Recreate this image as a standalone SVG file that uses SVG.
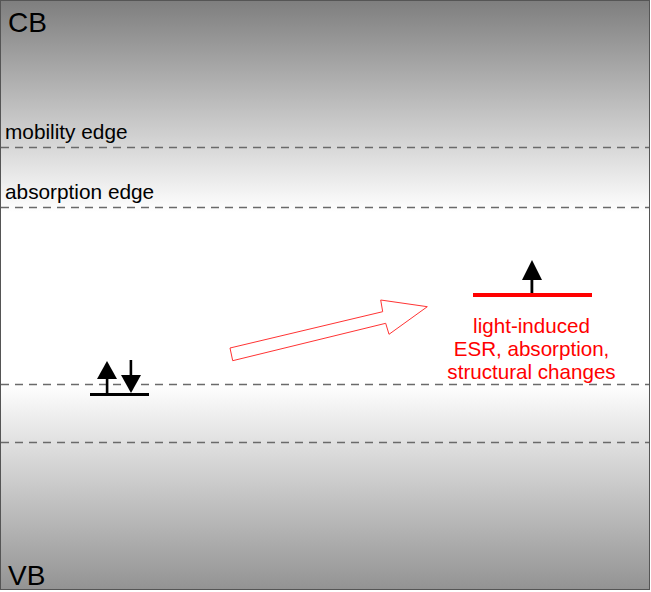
<svg xmlns="http://www.w3.org/2000/svg" width="651" height="592" viewBox="0 0 651 592">
<style>
.lbl{font-family:"Liberation Sans",Arial,sans-serif;font-size:20.8px;fill:#000}
.band{font-family:"Liberation Sans",Arial,sans-serif;font-size:28px;fill:#000}
.red{font-family:"Liberation Sans",Arial,sans-serif;font-size:20.6px;fill:#ff0000;text-anchor:middle}
.dash{stroke:#6a6a6a;stroke-width:1.3;stroke-dasharray:8 6;fill:none}
.blk{fill:#000;stroke:none}
</style>
<defs>
<linearGradient id="bg" gradientUnits="userSpaceOnUse" x1="0" y1="0" x2="0" y2="590">
<stop offset="0" stop-color="#7e7e7e"/>
<stop offset="0.36" stop-color="#ffffff"/>
<stop offset="0.65" stop-color="#ffffff"/>
<stop offset="1" stop-color="#939393"/>
</linearGradient>
</defs>
<rect width="651" height="592" fill="#ffffff"/>
<rect x="0.5" y="0.5" width="649" height="589" fill="url(#bg)" stroke="#555" stroke-width="1"/>
<g id="levels">
<line class="dash" x1="1" y1="147.5" x2="649" y2="147.5"/>
<line class="dash" x1="1" y1="207.5" x2="649" y2="207.5"/>
<line class="dash" x1="1" y1="384.5" x2="649" y2="384.5"/>
<line class="dash" x1="1" y1="442.5" x2="649" y2="442.5"/>
</g>
<g id="labels">
<text class="band" x="8" y="31.5">CB</text>
<text class="band" x="8" y="585">VB</text>
<text class="lbl" x="5" y="138.5">mobility edge</text>
<text class="lbl" x="5" y="199">absorption edge</text>
</g>
<g id="paired-state">
<rect class="blk" x="90" y="393" width="59" height="3"/>
<rect class="blk" x="105.8" y="377" width="2.6" height="17"/>
<polygon class="blk" points="97,379 117,379 107,361"/>
<rect class="blk" x="129.6" y="360" width="2.6" height="17"/>
<polygon class="blk" points="121,375 141,375 131,393"/>
</g>
<g id="unpaired-state">
<rect x="473" y="293" width="119" height="4" fill="#ff0000"/>
<rect class="blk" x="530.5" y="278" width="2.8" height="15"/>
<polygon class="blk" points="522,280 542,280 532,260"/>
<text class="red" x="531.5" y="333">light-induced</text>
<text class="red" x="531.5" y="356">ESR, absorption,</text>
<text class="red" x="531.5" y="379">structural changes</text>
</g>
<g id="connectors">
<polygon points="230,348 382.7,311.7 380.7,300 427.3,306.7 389,334.3 385.7,323.3 232.7,360.7" fill="#ffffff" stroke="#ff3333" stroke-width="1"/>
</g>
</svg>
